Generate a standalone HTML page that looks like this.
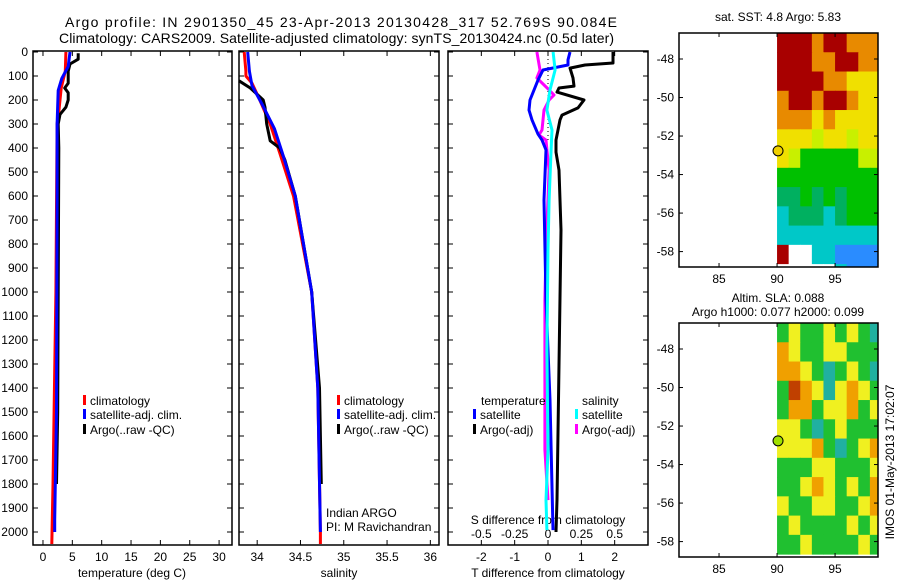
<!DOCTYPE html>
<html><head><meta charset="utf-8"><style>
html,body{margin:0;padding:0;background:#fff}
svg{display:block;font-family:"Liberation Sans",sans-serif}
</style></head><body>
<svg id="c" width="900" height="580" viewBox="0 0 900 580">
<text x="65" y="27" font-size="14" textLength="552" lengthAdjust="spacing">Argo profile: IN 2901350_45 23-Apr-2013 20130428_317 52.769S 90.084E</text>
<text x="59" y="43" font-size="14" textLength="555" lengthAdjust="spacing">Climatology: CARS2009. Satellite-adjusted climatology: synTS_20130424.nc (0.5d later)</text>
<g id="g"></g>
</svg>
<script>
// ---- profile data ----
const tClimDepth=[0,80,150,250,300,1000,1800,2050];
const tClim=[3.9,3.8,3.1,2.7,2.4,2.2,1.7,1.5];
const tSatDepth=[0,60,110,160,300,600,1500,1950,2000];
const tSat=[4.6,4.3,3.2,2.6,2.4,2.4,2.3,2.0,2.0];
const tArgoDepth=[5,30,50,80,130,150,170,200,230,260,300,400,1000,1500,1800];
const tArgo=[6.0,6.0,4.6,4.3,4.3,3.7,4.3,4.3,3.9,2.9,2.6,2.7,2.6,2.5,2.3];
const sClimDepth=[0,80,100,130,200,300,420,600,1000,1400,2000,2050];
const sClim=[33.85,33.87,33.87,33.94,34.03,34.15,34.26,34.42,34.63,34.70,34.73,34.73];
const sSatDepth=[0,80,140,220,320,420,600,1000,1400,2000];
const sSat=[33.89,33.91,33.94,34.06,34.20,34.29,34.44,34.63,34.70,34.73];
const sArgoDepth=[120,150,200,230,300,370,400,450,600,1000,1400,1800];
const sArgo=[33.79,33.92,34.07,34.09,34.11,34.15,34.26,34.32,34.44,34.63,34.72,34.74];
// difference panel
const dTArgoDepth=[0,46,54,67,108,142,150,167,200,233,263,283,367,417,492,742,1867,2000];
const dTArgo=[1.95,1.95,1.11,0.66,0.75,0.78,0.33,0.27,1.08,0.9,0.42,0.36,0.24,0.24,0.33,0.39,0.27,0.24];
const dTSatDepth=[0,33,54,75,117,200,242,283,342,367,408,617,1033,1450,1992];
const dTSat=[0.66,0.6,0.6,-0.15,-0.3,-0.54,-0.57,-0.48,-0.3,-0.18,-0.06,-0.12,-0.06,0.06,0.15];
const dSArgoDepth=[0,75,108,158,179,200,242,325,346,367,408,492,825,1033,1658,1867];
const dSArgo=[-0.083,-0.06,-0.083,0.008,0.045,0.008,-0.03,-0.045,-0.068,-0.015,-0.008,0.008,-0.015,-0.023,-0.023,0];
const dSSatDepth=[0,75,158,242,325,408,617,825,1242,1658,1867,1992];
const dSSat=[0.038,0.053,0.015,-0.008,0.03,0.023,0.008,0,-0.008,0,-0.015,-0.008];
// maps: colour codes per 1-degree cell, lon 90..99, lat -47..-58
const sstRows=["RRRORROOO","RRROORROO","RRRROOYYY","ORRORROYY","OOOYOYYYY","YYYLYYLYY","YLGGGGGLL","GGGGGGGGG","EEGEGEGGG","CEEECEGGG","CCCCCCCCC","RWWCCBBBB","WWWWWCBBB"];
const slaRows=["GYGGYGYGT","OYGGYYGGG","OOYGTGYGT","GROYTYOYG","GOOGYYOGY","YYGTGYGGG","YYYOGTGYO","GGGYYGGGY","GGYOYGYGO","YGGYYGGYO","GYGGGGYGY","GGYGGGGYG"];
const codeColors={R:"#a80000",O:"#e88a00",Y:"#f0e000",L:"#c8f000",G:"#00c000",E:"#00b060",C:"#00c8c8",B:"#2a8cff",W:"#ffffff",T:"#20b0a0"};
const slaColors={R:"#c04000",O:"#f0a000",Y:"#f0f020",G:"#20c030",T:"#20b0a0"};
const tTicks=[0,5,10,15,20,25,30];
const sTicks=[34,34.5,35,35.5,36];
const dTTicks=[-2,-1,0,1,2];
const dSTicks=[-0.5,-0.25,0,0.25,0.5];
const depthTicks=[0,100,200,300,400,500,600,700,800,900,1000,1100,1200,1300,1400,1500,1600,1700,1800,1900,2000];
const latTicks=[-48,-50,-52,-54,-56,-58];
const lonTicks=[85,90,95];

const NS="http://www.w3.org/2000/svg";
const G=document.getElementById('g');
function mk(tag,attrs,parent){const e=document.createElementNS(NS,tag);for(const k in attrs)e.setAttribute(k,attrs[k]);(parent||G).appendChild(e);return e;}
function txt(x,y,s,anchor,size,parent){const e=mk('text',{x:x,y:y,'font-size':size||12,'text-anchor':anchor||'start'},parent);e.textContent=s;return e;}

const yTop=51, yBot=545;
const yD=d=>52+d*0.24;
const panels=[
 {x0:33,x1:232,lo:-1.7,hi:32.2,name:'temperature-panel'},
 {x0:239,x1:439,lo:33.79,hi:36.1,name:'salinity-panel'},
 {x0:448,x1:648,lo:-3,hi:3,name:'difference-panel'}];
function xf(p){return v=>p.x0+(v-p.lo)/(p.hi-p.lo)*(p.x1-p.x0);}
const xT=xf(panels[0]), xS=xf(panels[1]), xDT=xf(panels[2]);
const xDS=v=>xDT(v*4);

function line(xs,ds,xfun,color,name){
  const pts=xs.map((v,i)=>xfun(v).toFixed(1)+','+yD(ds[i]).toFixed(1)).join(' ');
  const e=mk('polyline',{points:pts,fill:'none',stroke:color,'stroke-width':3,'stroke-linejoin':'round'});
  
  
}
panels.forEach((p,i)=>{
  const r=mk('rect',{x:p.x0,y:yTop,width:p.x1-p.x0,height:yBot-yTop,fill:'none',stroke:'#000','stroke-width':1.5});
  
  
  depthTicks.forEach(d=>{
    mk('line',{x1:p.x0,x2:p.x0+5,y1:yD(d),y2:yD(d),stroke:'#000'});
    mk('line',{x1:p.x1,x2:p.x1-5,y1:yD(d),y2:yD(d),stroke:'#000'});
    if(i==0){const t=txt(28,yD(d)+4,String(d),'end',12);}
  });
});
function xt(ticks,f,labelY){ticks.forEach(v=>{const x=f(v);mk('line',{x1:x,x2:x,y1:yTop,y2:yTop+5,stroke:'#000'});mk('line',{x1:x,x2:x,y1:yBot,y2:yBot-5,stroke:'#000'});
 const t=txt(x,labelY,String(v),'middle',12);});}
xt(tTicks,xT,561);xt(sTicks,xS,561);xt(dTTicks,xDT,561);
dSTicks.forEach(v=>{const t=txt(xDS(v),538,v===0?'0':String(v),'middle',12);});
[['temperature (deg C)',132],['salinity',339],['T difference from climatology',548]].forEach(a=>{const t=txt(a[1],577,a[0],'middle',12);});
{const t=txt(548,524,'S difference from climatology','middle',12);}
{const e=mk('line',{x1:548,x2:548,y1:yTop,y2:140,stroke:'#000','stroke-dasharray':'1,3'});}

line(tClim,tClimDepth,xT,'#ff0000','temp-climatology-line');
line(tArgo,tArgoDepth,xT,'#000','temp-argo-line');
line(tSat,tSatDepth,xT,'#0000ff','temp-satellite-line');
line(sClim,sClimDepth,xS,'#ff0000','sal-climatology-line');
line(sArgo,sArgoDepth,xS,'#000','sal-argo-line');
line(sSat,sSatDepth,xS,'#0000ff','sal-satellite-line');
line(dTArgo,dTArgoDepth,xDT,'#000','diff-t-argo-line');
line(dSArgo,dSArgoDepth,xDS,'#ff00ff','diff-s-argo-line');
line(dTSat,dTSatDepth,xDT,'#0000ff','diff-t-satellite-line');
line(dSSat,dSSatDepth,xDS,'#00ffff','diff-s-satellite-line');

function legend(x,y,color,label){mk('rect',{x:x,y:y-10,width:3,height:10,fill:color});const t=txt(x+7,y,label,'start',12);}
[83,337].forEach(x=>{legend(x,405,'#ff0000','climatology');legend(x,419,'#0000ff','satellite-adj. clim.');legend(x,434,'#000','Argo(..raw -QC)');});
txt(481,405,'temperature');txt(582,405,'salinity');
legend(473,419,'#0000ff','satellite');legend(473,434,'#000','Argo(-adj)');
legend(575,419,'#00ffff','satellite');legend(575,434,'#ff00ff','Argo(-adj)');
txt(326,517,'Indian ARGO');txt(326,531,'PI: M Ravichandran');

function map(top,bot,rows,colors,title1,title2,markerColor,name){
  const x0=679,x1=878,lonLo=81.55,lonHi=98.7,latTop=-46.65,latBot=-58.8;
  const X=l=>x0+(l-lonLo)/(lonHi-lonLo)*(x1-x0);
  const Y=l=>top+(latTop-l)/(latTop-latBot)*(bot-top);
  const g=mk('g',{});
  
  
  rows.forEach((row,r)=>{[...row].forEach((c,k)=>{
    const la=-46.65-r, lo=90+k;
    const xa=X(lo),xb=Math.min(X(lo+1),x1),ya=Y(la),yb=Math.min(Y(la-1),bot);
    if(xb>xa&&yb>ya)mk('rect',{x:xa,y:ya,width:xb-xa+0.5,height:yb-ya+0.5,fill:colors[c]},g);
  });});
  mk('rect',{x:x0,y:top,width:x1-x0,height:bot-top,fill:'none',stroke:'#000','stroke-width':1.5},g);
  latTicks.forEach(l=>{const y=Y(l);mk('line',{x1:x0,x2:x0+4,y1:y,y2:y,stroke:'#000'},g);mk('line',{x1:x1,x2:x1-4,y1:y,y2:y,stroke:'#000'},g);txt(674,y+4,String(l),'end',12,g);});
  lonTicks.forEach(l=>{const x=X(l);mk('line',{x1:x,x2:x,y1:top,y2:top+4,stroke:'#000'},g);mk('line',{x1:x,x2:x,y1:bot,y2:bot-4,stroke:'#000'},g);txt(x,bot+16,String(l),'middle',12,g);});
  if(title2){txt(778,top-21,title1,'middle',12,g);txt(778,top-7,title2,'middle',12,g);}else txt(778,top-12,title1,'middle',12,g);
  const m=mk('circle',{cx:X(90.084),cy:Y(-52.769),r:5,fill:markerColor,stroke:'#000'},g);
  
  
}
map(33,267,sstRows,codeColors,'sat. SST: 4.8 Argo: 5.83',null,'#f0d000','sst-map');
map(323,557,slaRows,slaColors,'Altim. SLA: 0.088','Argo h1000: 0.077 h2000: 0.099','#a0e000','sla-map');
{const t=txt(0,0,'IMOS 01-May-2013 17:02:07','middle',12);t.setAttribute('transform','translate(894,462) rotate(-90)');}
</script>
</body></html>
